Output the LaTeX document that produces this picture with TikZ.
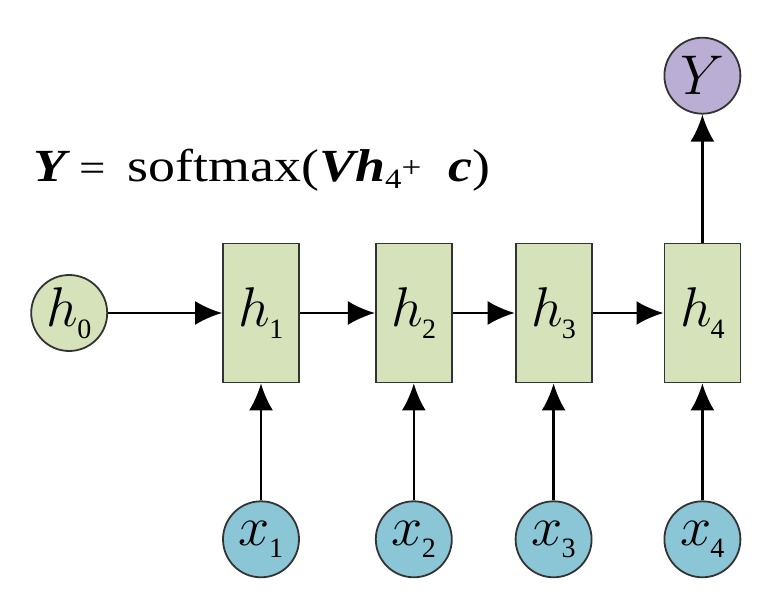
\documentclass[tikz,border=0pt]{standalone}
\usepackage{fix-cm}
\usepackage{fontspec}
\setmainfont{Liberation Serif}
\usetikzlibrary{arrows.meta, positioning}
\definecolor{cellgreen}{RGB}{214,226,186}
\definecolor{inblue}{RGB}{138,198,214}
\definecolor{outpurple}{RGB}{186,174,212}
\tikzset{
  cell/.style={draw=black!80, line width=1.8pt, fill=cellgreen,
    minimum width=76pt, minimum height=139pt, inner sep=0pt},
  unit/.style={circle, draw=black!80, line width=1.8pt, minimum size=76pt, inner sep=0pt},
  flow/.style={-{Latex[length=27pt,width=24pt]}, line width=2.4pt}
}
\newcommand{\lbl}[2]{\fontsize{56}{56}\selectfont$#1$\kern-1pt\raisebox{-12pt}{\fontsize{28}{28}\selectfont #2}}

\begin{document}
\begin{tikzpicture}[x=1pt, y=1pt]
    \useasboundingbox (0,0) rectangle (776,608);

    % recurrent cells
    \node[cell] (h1) at (261,295) {\lbl{h}{1}};
    \node[cell, right=75pt of h1] (h2) {\lbl{h}{2}};
    \node[cell, right=62pt of h2] (h3) {\lbl{h}{3}};
    \node[cell, right=71pt of h3] (h4) {\lbl{h}{4}};

    \node[unit, fill=cellgreen, left=114pt of h1] (h0) {\lbl{h}{0}};

    % inputs
    \node[unit, fill=inblue, below=117pt of h1] (x1) {\lbl{x}{1}};
    \node[unit, fill=inblue, below=117pt of h2] (x2) {\lbl{x}{2}};
    \node[unit, fill=inblue, below=117pt of h3] (x3) {\lbl{x}{3}};
    \node[unit, fill=inblue, below=117pt of h4] (x4) {\lbl{x}{4}};

    % output
    \node[unit, fill=outpurple, above=128pt of h4] (y) {\fontsize{56}{56}\selectfont$Y$};

    \node[anchor=base west, inner sep=0pt] (eq) at (33,426)
      {\scalebox{1.17}[1]{\fontsize{46}{46}\selectfont
        \textbf{\textit{Y}}\,{\fontsize{40}{40}\selectfont =}\ \,softmax(\textbf{\textit{Vh}}\raisebox{-7pt}{\fontsize{28}{28}\selectfont 4}\raisebox{4pt}{\fontsize{30}{30}\selectfont +}\ \ \textbf{\textit{c}})}};

    \draw[flow] (h0) -- (h1);
    \draw[flow] (h1) -- (h2);
    \draw[flow] (h2) -- (h3);
    \draw[flow] (h3) -- (h4);

    \draw[flow] (x1) -- (h1);
    \draw[flow] (x2) -- (h2);
    \draw[flow] (x3) -- (h3);
    \draw[flow] (x4) -- (h4);

    \draw[flow] (h4) -- (y);
\end{tikzpicture}
\end{document}
